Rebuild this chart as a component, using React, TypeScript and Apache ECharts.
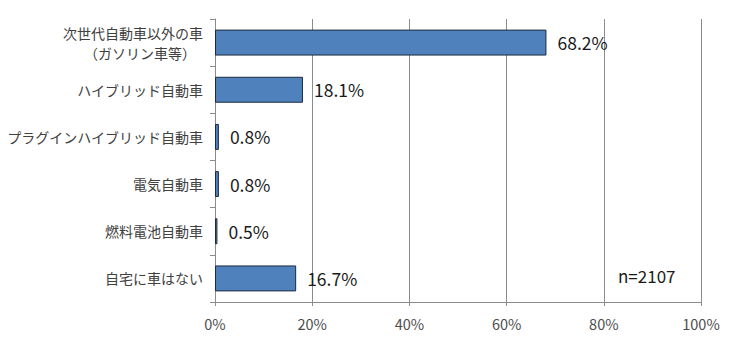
import React, { useEffect, useRef } from "react";
import * as echarts from "echarts";

const categories = [
  "次世代自動車以外の車\n（ガソリン車等）　",
  "ハイブリッド自動車",
  "プラグインハイブリッド自動車",
  "電気自動車",
  "燃料電池自動車",
  "自宅に車はない",
];
const values = [68.2, 18.1, 0.8, 0.8, 0.5, 16.7];
const xTicks = [0, 20, 40, 60, 80, 100];
const note = "n=2107";

const FONT = "'Noto Sans CJK JP', 'Noto Sans', sans-serif";

export default function App() {
  const ref = useRef<HTMLDivElement>(null);
  useEffect(() => {
    document.body.style.margin = "0";
    const chart = echarts.init(ref.current!, null, { renderer: "svg" });
    chart.setOption({
      animation: false,
      backgroundColor: "#ffffff",
      textStyle: { fontFamily: FONT },
      grid: {
        left: 215,
        right: 39,
        top: 19,
        bottom: 43,
        containLabel: false,
        outerBoundsMode: "none",
      },
      xAxis: {
        type: "value",
        min: xTicks[0],
        max: xTicks[xTicks.length - 1],
        interval: 20,
        axisLine: { show: true, lineStyle: { color: "#8c8c8c", width: 1 } },
        axisTick: { show: true, length: 4, lineStyle: { color: "#8c8c8c" } },
        splitLine: { show: true, lineStyle: { color: "#8c8c8c", width: 1 } },
        axisLabel: {
          formatter: "{value}%",
          color: "#4d4d4d",
          fontSize: 14.5,
          fontFamily: FONT,
          margin: 14,
        },
      },
      yAxis: {
        type: "category",
        inverse: true,
        data: categories,
        axisLine: { show: true, lineStyle: { color: "#8c8c8c", width: 1 } },
        axisTick: { show: true, length: 5, lineStyle: { color: "#8c8c8c" } },
        axisLabel: {
          color: "#404040",
          fontSize: 14,
          fontFamily: FONT,
          margin: 12,
          lineHeight: 20,
        },
      },
      series: [
        {
          type: "bar",
          data: values,
          barWidth: "55%",
          itemStyle: { color: "#4F81BD", borderColor: "#1c2a3c", borderWidth: 1 },
          label: {
            show: true,
            position: "right",
            distance: 11,
            color: "#1a1a1a",
            fontSize: 17.5,
            fontFamily: FONT,
            formatter: (p: any) => p.value.toFixed(1) + "%",
          },
        },
      ],
      graphic: [
        {
          type: "text",
          left: 618,
          top: 267,
          style: { text: note, fontSize: 17, fill: "#1a1a1a", fontFamily: FONT },
        },
      ],
    });
    return () => chart.dispose();
  }, []);
  return (
    <div
      ref={ref}
      style={{ position: "fixed", left: 0, top: 0, width: 740, height: 345 }}
    />
  );
}
